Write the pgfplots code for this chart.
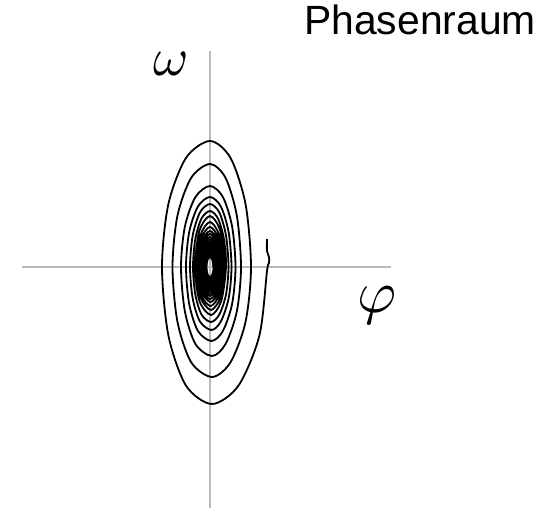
\documentclass[border=0pt]{standalone}
\usepackage{pgfplots}
\pgfplotsset{compat=1.18}
\usepackage{fontspec}
\newfontfamily\arial{Liberation Sans}
\begin{document}
\begin{tikzpicture}
\begin{axis}[
  scale only axis, width=556bp, height=509bp,
  xmin=-210, xmax=346, ymin=-242, ymax=267,
  axis lines=none, ticks=none, clip=false,
]
\path (axis cs:-210,-242) rectangle (axis cs:346,267);
% coordinate cross
\addplot[gray!55, line width=2bp] coordinates {(-188,0) (181,0)};
\addplot[gray!55, line width=2bp] coordinates {(0,216) (0,-241)};
% damped oscillation: trajectory in the phase plane (phi, omega)
\addplot[black, line width=1.8bp, smooth] coordinates {
(57,28) (57,16) (59,10) (59,4) (57,-4)
(49.4,-68.5) (28.5,-118.6) (2,-137) (-24,-118.6) (-41.6,-68.5) (-48,0) (-41.6,63) (-24,109.1) (0,126) (20.5,109.1) (35.5,63)
(41,0) (35.5,-55) (20.5,-95.3) (2,-110) (-18.8,-95.3) (-32.5,-55) (-37.5,0) (-32.5,51.5) (-18.8,89.2) (0,103) (15.5,89.2) (26.8,51.5)
(31,0) (26.8,-44.5) (15.5,-77.1) (2,-89) (-14.5,-77.1) (-25.1,-44.5) (-29,0) (-25.1,40.5) (-14.5,70.1) (0,81) (12.8,70.1) (22.1,40.5)
(25.5,0) (22.1,-37) (12.8,-64.1) (1.5,-74) (-12,-64.1) (-20.8,-37) (-24,0) (-20.8,35) (-12,60.6) (0,70) (10.8,60.6) (18.6,35)
(21.5,0) (18.6,-31.5) (10.8,-54.6) (1.5,-63) (-10,-54.6) (-17.3,-31.5) (-20,0) (-17.3,31.5) (-10,54.6) (0,63) (9.3,54.6) (16,31.5)
(18.5,0) (16,-27.5) (9.3,-47.6) (1,-55) (-8.5,-47.6) (-14.7,-27.5) (-17,0) (-14.7,28) (-8.5,48.5) (0,56) (8,48.5) (13.9,28)
(16,0) (11.3,-33.9) (1,-48) (-10.6,-33.9) (-15,0) (-10.6,36.1) (0,51) (10.3,36.1)
(14.5,0) (10.3,-30.4) (1,-43) (-9.5,-30.4) (-13.5,0) (-9.5,31.8) (0,45) (9.2,31.8)
(13,0) (9.2,-27.6) (0.5,-39) (-8.8,-27.6) (-12.5,0) (-8.8,28.3) (0,40) (8.5,28.3)
(12,0) (8.5,-24.7) (0.5,-35) (-8.1,-24.7) (-11.5,0) (-8.1,25.5) (0,36) (7.8,25.5)
(11,0) (7.8,-22.6) (0,-32) (-7.4,-22.6) (-10.5,0) (-7.4,23.3) (0,33) (7.1,23.3)
(10,0) (7.1,-20.5) (0,-29) (-6.7,-20.5) (-9.5,0) (-6.7,21.2) (0,30) (6.5,21.2)
(9.2,0) (6.5,-18.7) (0,-26.5) (-6.2,-18.7) (-8.8,0) (-6.2,19.4) (0,27.5) (6.0,19.4)
(8.5,0) (6.0,-17.0) (0,-24) (-5.7,-17.0) (-8.1,0) (-5.7,17.7) (0,25) (5.5,17.7)
(7.8,0) (5.5,-15.6) (0,-22) (-5.3,-15.6) (-7.5,0) (-5.3,16.3) (0,23) (5.1,16.3)
(7.2,0) (5.1,-14.1) (0,-20) (-4.9,-14.1) (-7,0) (-4.9,14.8) (0,21) (4.7,14.8)
(6.7,0) (4.7,-13.1) (0,-18.5) (-4.6,-13.1) (-6.5,0) (-4.6,13.4) (0,19) (4.4,13.4)
(6.2,0) (4.4,-12.0) (0,-17) (-4.2,-12.0) (-6,0) (-4.2,12.4) (0,17.5) (4.0,12.4)
(5.7,0) (4.0,-11.0) (0,-15.5) (-3.9,-11.0) (-5.5,0) (-3.9,11.3) (0,16) (3.7,11.3)
(5.2,0) (3.7,-9.9) (0,-14) (-3.5,-9.9) (-5,0) (-3.5,10.3) (0,14.5) (3.4,10.3)
(4.8,0) (3.4,-9.2) (0,-13) (-3.3,-9.2) (-4.6,0) (-3.3,9.2) (0,13) (3.1,9.2)
(4.4,0) (3.1,-8.5) (0,-12) (-3.0,-8.5) (-4.2,0) (-3.0,8.5) (0,12) (2.8,8.5)
(4,0) (2.8,-7.8) (0,-11) (-2.7,-7.8) (-3.8,0) (-2.7,7.8) (0,11) (2.5,7.8)
(3.6,0) (2.5,-7.1) (0,-10) (-2.5,-7.1) (-3.5,0) (-2.5,7.1) (0,10) (2.3,7.1)
(3.3,0)
};
\node[anchor=base, font=\arial\fontsize{41}{49}\selectfont] at (axis cs:210,232) {Phasenraum};
\node[scale=5.4] at (axis cs:-39,203) {$\omega$};
\node[scale=6] at (axis cs:167,-38) {$\varphi$};
\end{axis}
\end{tikzpicture}
\end{document}
